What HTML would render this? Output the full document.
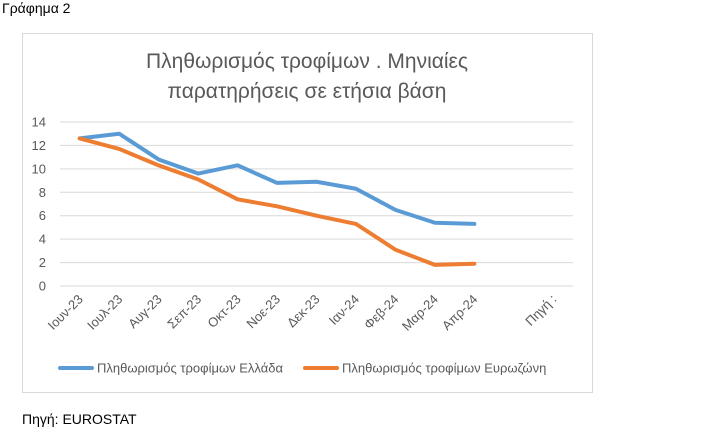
<!DOCTYPE html>
<html><head><meta charset="utf-8"><style>
body{margin:0;width:716px;height:433px;background:#fff;font-family:"Liberation Sans",sans-serif;position:relative;overflow:hidden}
.t{position:absolute;color:#000;font-size:14px}
</style></head><body>
<div class="t" style="left:2px;top:0px">Γράφημα 2</div>
<div class="t" style="left:22px;top:411px">Πηγή: EUROSTAT</div>
<svg id="c" width="716" height="433" style="position:absolute;left:0;top:0"></svg>
<script>
const categories=["Ιουν-23","Ιουλ-23","Αυγ-23","Σεπ-23","Οκτ-23","Νοε-23","Δεκ-23","Ιαν-24","Φεβ-24","Μαρ-24","Απρ-24",""," Πηγή :"];
const greece=[12.6,13.0,10.8,9.6,10.3,8.8,8.9,8.3,6.5,5.4,5.3];
const eurozone=[12.6,11.7,10.3,9.1,7.4,6.8,6.0,5.3,3.1,1.8,1.9];
const yTicks=[0,2,4,6,8,10,12,14];
const seriesNames=["Πληθωρισμός τροφίμων Ελλάδα","Πληθωρισμός τροφίμων Ευρωζώνη"];
const NS="http://www.w3.org/2000/svg";
const svg=document.getElementById('c');
const x0=60,x1=573,y0=286,y1=122;
const bw=(x1-x0)/categories.length;
const X=i=>x0+bw*(i+0.5);
const Y=v=>y0-(v/14)*(y0-y1);
function mk(t,a,txt){const e=document.createElementNS(NS,t);for(const k in a)e.setAttribute(k,a[k]);if(txt!==undefined)e.textContent=txt;svg.appendChild(e);return e;}
let e=mk('rect',{x:22.5,y:33.5,width:570,height:359,fill:'none',stroke:'#d9d9d9'});


e=mk('text',{x:307,y:68,'text-anchor':'middle','font-size':21,fill:'#595959','font-family':'Liberation Sans, sans-serif'},'Πληθωρισμός τροφίμων . Μηνιαίες');


e=mk('text',{x:307,y:98,'text-anchor':'middle','font-size':21,fill:'#595959','font-family':'Liberation Sans, sans-serif'},'παρατηρήσεις σε ετήσια βάση');


yTicks.forEach(v=>{
 const g=mk('line',{x1:x0,x2:x1,y1:Y(v),y2:Y(v),stroke:'#d9d9d9','stroke-width':1});
 
 
 const t=mk('text',{x:46,y:Y(v)+4.5,'text-anchor':'end','font-size':13,fill:'#595959','font-family':'Liberation Sans, sans-serif'},String(v));
 
 
});
categories.forEach((c,i)=>{
 if(!c)return;
 const t=mk('text',{x:X(i)+4,y:y0+14,'text-anchor':'end','font-size':13,fill:'#595959','font-family':'Liberation Sans, sans-serif',transform:`rotate(-45 ${X(i)+4} ${y0+14})`},c.trim());
 
 
});
function line(arr,col,name){
 const p=mk('polyline',{points:arr.map((v,i)=>X(i)+','+Y(v)).join(' '),fill:'none',stroke:col,'stroke-width':4,'stroke-linejoin':'round','stroke-linecap':'round'});
 
 
}
line(greece,'#5b9bd5','series-greece');
line(eurozone,'#ed7d31','series-eurozone');
[[60,'#5b9bd5',0],[305,'#ed7d31',1]].forEach(([lx,col,i])=>{
 const l=mk('line',{x1:lx,x2:lx+32,y1:368,y2:368,stroke:col,'stroke-width':4,'stroke-linecap':'round'});
 
 
 const t=mk('text',{x:lx+37,y:372.5,'font-size':13,fill:'#595959','font-family':'Liberation Sans, sans-serif'},seriesNames[i]);
 
 
});
</script>
</body></html>
